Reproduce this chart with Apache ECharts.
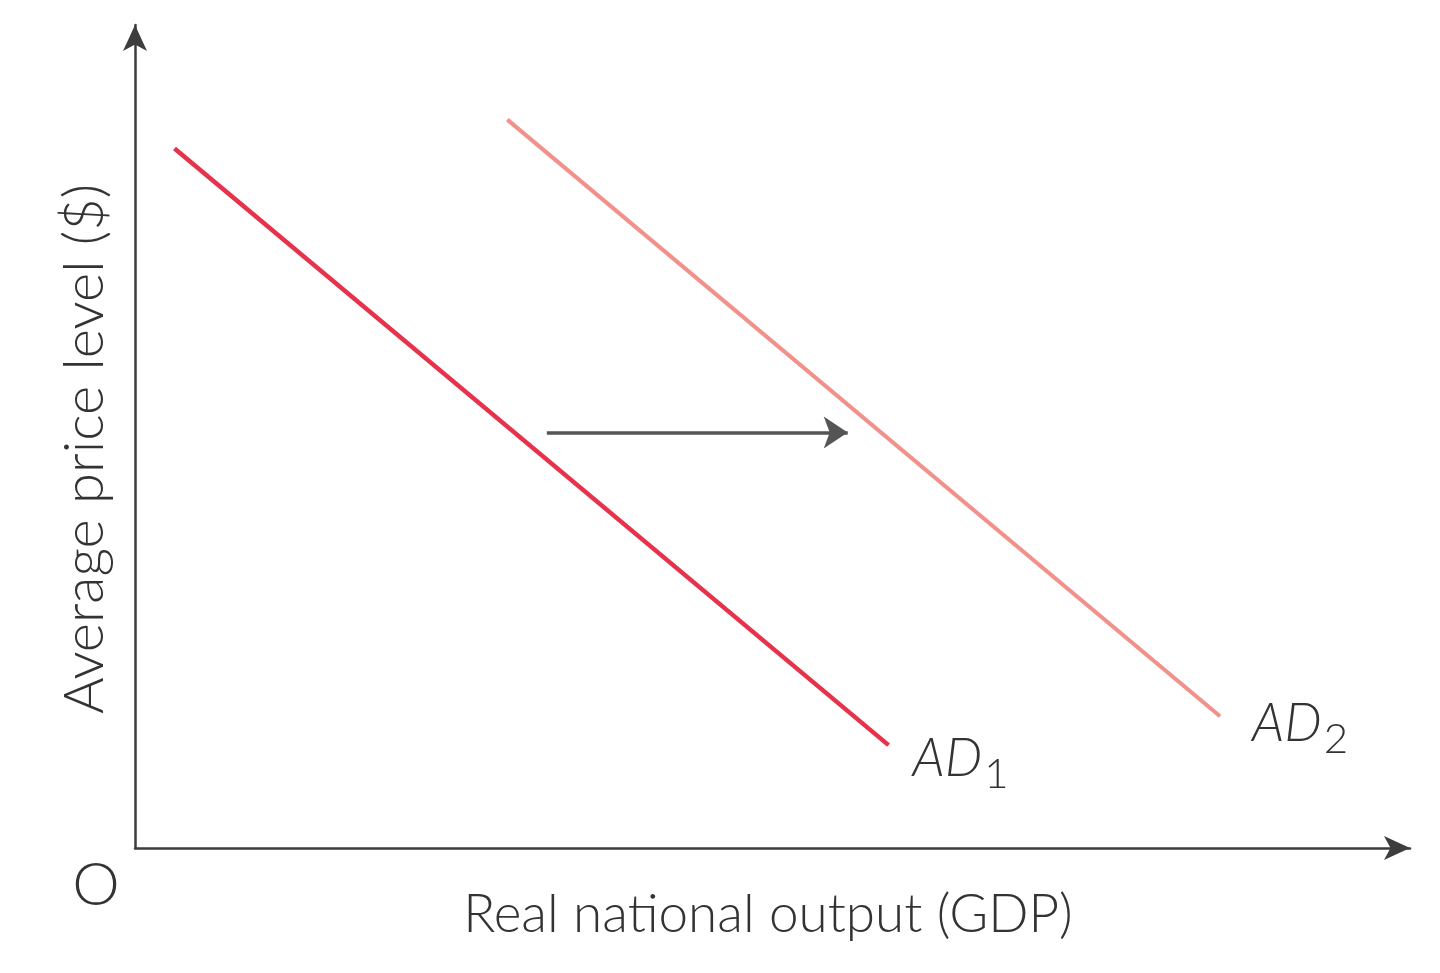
<!DOCTYPE html>
<html>
<head>
<meta charset="utf-8">
<script src="https://cdn.jsdelivr.net/npm/echarts@6/dist/echarts.min.js"></script>
<style>html,body{margin:0;padding:0;background:#fff;}#c{width:1440px;height:973px;}</style>
</head>
<body>
<div id="c"></div>
<script>
var ad1Points = [[3.1, 85.0], [59.1, 12.5]];
var ad2Points = [[29.2, 88.5], [85.1, 16.0]];
var shiftArrow = [[32.3, 50.5], [55.9, 50.5]];
var xAxisTitle = 'Real national output (GDP)';
var yAxisTitle = 'Average price level ($)';
var originLabel = 'O';

var chart = echarts.init(document.getElementById('c'));
var axisColor = '#3d3d3d';
var font = 'Lato, "DejaVu Sans", sans-serif';
function adLabel(sub, dx, dy){
  return {
    show: true, distance: 22, offset: [dx, dy],
    formatter: function(){ return '{a|AD}{s|' + sub + '}'; },
    rich: {
      a: {fontSize: 53, fontStyle: 'italic', color: '#333', fontFamily: font, fontWeight: 300},
      s: {fontSize: 42, color: '#333', fontFamily: font, padding: [30, 0, 0, 2], fontWeight: 300}
    }
  };
}
chart.setOption({
  animation: false,
  backgroundColor: '#fff',
  grid: {left: 135, right: 30, top: 25, bottom: 125},
  xAxis: {type: 'value', min: 0, max: 100,
    axisLine: {lineStyle: {color: axisColor, width: 2.5}, symbol: ['none', 'arrow'], symbolSize: [18, 26]},
    axisTick: {show: false}, axisLabel: {show: false}, splitLine: {show: false}},
  yAxis: {type: 'value', min: 0, max: 100,
    axisLine: {onZero: false, lineStyle: {color: axisColor, width: 2.5}, symbol: ['none', 'arrow'], symbolSize: [18, 26]},
    axisTick: {show: false}, axisLabel: {show: false}, splitLine: {show: false}},
  series: [
    {type: 'line', data: ad1Points, showSymbol: false, symbol: 'none',
     lineStyle: {color: '#e6324b', width: 4.5}, endLabel: adLabel('1', 2, 14)},
    {type: 'line', data: ad2Points, showSymbol: false, symbol: 'none',
     lineStyle: {color: '#f2908a', width: 4}, endLabel: adLabel('2', 10, 8)},
    {type: 'lines', coordinateSystem: 'cartesian2d', polyline: false,
     symbol: ['none', 'arrow'], symbolSize: 24,
     lineStyle: {color: '#555', width: 3.5, opacity: 1},
     data: [{coords: shiftArrow}]}
  ],
  graphic: [
    {type: 'text', x: 768, y: 915, style: {text: xAxisTitle, fontSize: 53, fontFamily: font, fontWeight: 300, fill: '#333', textAlign: 'center', textVerticalAlign: 'middle'}},
    {type: 'text', x: 85, y: 449, rotation: Math.PI / 2,
     style: {text: yAxisTitle, fontSize: 56, fontFamily: font, fontWeight: 300, fill: '#333', textAlign: 'center', textVerticalAlign: 'middle'}},
    {type: 'text', x: 96, y: 886, style: {text: originLabel, fontSize: 60, fontFamily: font, fontWeight: 300, fill: '#333', textAlign: 'center', textVerticalAlign: 'middle'}}
  ]
});
</script>
</body>
</html>
